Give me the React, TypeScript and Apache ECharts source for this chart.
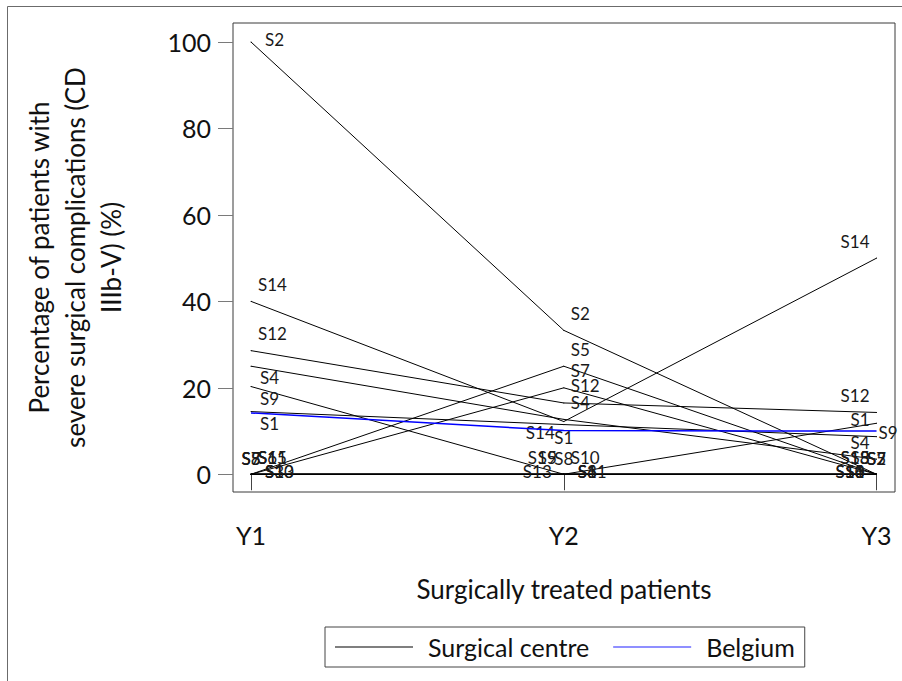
import React, { useEffect, useRef } from "react";
import * as echarts from "echarts";

// ---- data ----
const categories = ["Y1", "Y2", "Y3"];
const yTicks = [0, 20, 40, 60, 80, 100];
const centreNames = ["S1", "S2", "S3", "S4", "S5", "S6", "S7", "S8", "S9", "S10", "S11", "S12", "S13", "S14", "S15"];
const s1 = [14.5, 11.5, 8.7];
const s2 = [100, 33.3, 0];
const s3 = [0, 0, 0];
const s4 = [25, 12.7, 3.5];
const s5 = [0, 25, 0];
const s6 = [0, 0, 0];
const s7 = [0, 20, 0];
const s8 = [0, 0, 0];
const s9 = [20.3, 0, 11.8];
const s10 = [0, 0, 0];
const s11 = [0, 0, 0];
const s12 = [28.6, 16.5, 14.3];
const s13 = [0, 0, 0];
const s14 = [40, 12.2, 50];
const s15 = [0, 0, 0];
const belgium = [14.2, 10.1, 10.0];
const centreValues = [s1, s2, s3, s4, s5, s6, s7, s8, s9, s10, s11, s12, s13, s14, s15];

// label clock positions (style) for Y1, Y2, Y3
const labelClock = [
  ["4", "6", "11"],
  ["3", "1", "12"],
  ["3", "3", "9"],
  ["4", "1", "11"],
  ["12", "1", "12"],
  ["1", "3", "9"],
  ["12", "1", "12"],
  ["12", "12", "11"],
  ["4", "11", "5"],
  ["3", "1", "9"],
  ["1", "3", "9"],
  ["1", "1", "11"],
  ["3", "9", "11"],
  ["1", "8", "11"],
  ["1", "11", "11"],
];

const clockStyle: Record<string, { align: string; off: number[] }> = {
  "1": { align: "left", off: [7, -17] },
  "3": { align: "left", off: [14, -3] },
  "4": { align: "left", off: [9, 11.5] },
  "5": { align: "left", off: [2, 9] },
  "6": { align: "center", off: [0, 13] },
  "8": { align: "right", off: [-9, 11] },
  "9": { align: "right", off: [-12, -3] },
  "11": { align: "right", off: [-7, -17] },
  "12": { align: "center", off: [0, -16] },
};

const FONT = "Lato";

export default function App() {
  const ref = useRef<HTMLDivElement>(null);
  useEffect(() => {
    if (!ref.current) return;
    const chart = echarts.init(ref.current, undefined, { renderer: "svg" });

    const centreSeries = centreNames.map((name, k) => ({
      type: "line",
      name: "Surgical centre",
      silent: true,
      symbol: "circle",
      symbolSize: 1,
      showSymbol: true,
      lineStyle: { color: "#000", width: 1 },
      itemStyle: { color: "#000" },
      emphasis: { disabled: true },
      z: 2,
      label: {
        show: true,
        formatter: "{b}",
        fontSize: 17,
        fontFamily: FONT,
        color: "#1a1a1a",
      },
      data: centreValues[k].map((v, i) => {
        const cs = clockStyle[labelClock[k][i]];
        return {
          value: [i + 1, v],
          name,
          label: {
            position: "inside",
            align: cs.align,
            verticalAlign: "middle",
            offset: cs.off,
          },
        };
      }),
    }));

    const option: any = {
      animation: false,
      textStyle: { fontFamily: FONT },
      graphic: [
        {
          type: "rect",
          shape: { x: 7.5, y: 6.5, width: 1000, height: 1000 },
          style: { fill: "none", stroke: "#6b6b6b", lineWidth: 1 },
          silent: true,
        },
      ],
      grid: {
        left: 233,
        top: 23,
        width: 662,
        height: 469,
        show: true,
        borderColor: "#3a3a3a",
        borderWidth: 1,
        backgroundColor: "transparent",
      },
      legend: {
        left: 325,
        top: 627,
        orient: "horizontal",
        padding: [7, 10, 7, 10],
        itemWidth: 78,
        itemHeight: 1,
        itemGap: 24,
        borderColor: "#444",
        borderWidth: 1,
        textStyle: { fontSize: 25, fontFamily: FONT, color: "#111", lineHeight: 26, padding: [0, 0, 0, 10] },
        data: [
          { name: "Surgical centre", icon: "rect", itemStyle: { color: "#000" } },
          { name: "Belgium", icon: "rect", itemStyle: { color: "#2020ff" } },
        ],
        selectedMode: false,
      },
      xAxis: {
        type: "value",
        min: 0.9424,
        max: 3.059,
        name: "Surgically treated patients",
        nameLocation: "middle",
        nameGap: 84,
        nameTextStyle: { fontSize: 26, fontFamily: FONT, color: "#111" },
        axisLine: { show: false },
        splitLine: { show: false },
        axisTick: { show: true, length: 16, customValues: [1, 2, 3], lineStyle: { color: "#444" } },
        axisLabel: {
          customValues: [1, 2, 3],
          formatter: (v: number) => categories[Math.round(v) - 1],
          fontSize: 25,
          fontFamily: FONT,
          color: "#111",
          margin: 30,
        },
      },
      yAxis: {
        type: "value",
        min: -4.1,
        max: 104.4,
        name: "Percentage of patients with\nsevere surgical complications (CD\nIIIb-V) (%)",
        nameLocation: "middle",
        nameRotate: 90,
        nameGap: 104,
        nameTextStyle: { fontSize: 26, fontFamily: FONT, color: "#111", lineHeight: 36, align: "center" },
        axisLine: { show: false },
        splitLine: { show: false },
        axisTick: { show: true, length: 15, customValues: yTicks, lineStyle: { color: "#7a7a7a" } },
        axisLabel: {
          customValues: yTicks,
          fontSize: 25,
          fontFamily: FONT,
          color: "#111",
          margin: 22,
        },
      },
      series: [
        ...centreSeries,
        {
          type: "line",
          name: "Belgium",
          silent: true,
          symbol: "none",
          lineStyle: { color: "#0000ff", width: 1.5 },
          itemStyle: { color: "#2020ff" },
          emphasis: { disabled: true },
          z: 3,
          data: belgium.map((v, i) => [i + 1, v]),
        },
      ],
    };
    chart.setOption(option);
    return () => chart.dispose();
  }, []);

  return (
    <div
      ref={ref}
      style={{ position: "fixed", left: 0, top: 0, width: 902, height: 681, background: "#fff" }}
    />
  );
}
